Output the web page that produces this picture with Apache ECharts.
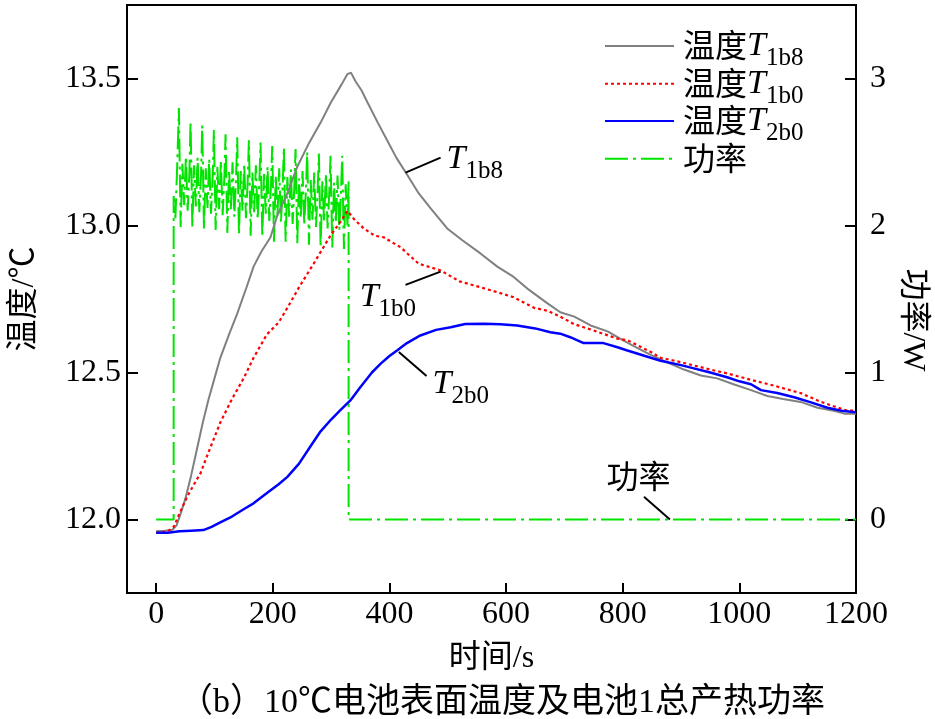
<!DOCTYPE html>
<html><head><meta charset="utf-8">
<script src="https://cdn.jsdelivr.net/npm/echarts@6.0.0/dist/echarts.min.js"></script>
<style>html,body{margin:0;padding:0;background:#fff}#c{width:935px;height:719px}</style>
</head><body><div id="c"></div><script>
// ---- data ----
const xTicks = [0, 200, 400, 600, 800, 1000, 1200];
const tempTicks = [12.0, 12.5, 13.0, 13.5];
const powerTicks = [0, 1, 2, 3];

const timeT1b8 = [0,15,28,35,42,50,60,70,80,90,100,110,125,139,155,167,180,196,207,225,242,262,282,300,318,328,334,342,352,362,380,396,412,428,450,470,499,525,556,585,613,640,671,693,717,745,774,800,819,848,876,905,934,962,990,1020,1048,1075,1105,1134,1162,1180,1200];
const valT1b8  = [11.960,11.962,11.965,11.98,12.02,12.07,12.15,12.24,12.33,12.41,12.48,12.55,12.63,12.70,12.79,12.86,12.91,12.96,13.03,13.11,13.20,13.28,13.35,13.42,13.48,13.515,13.52,13.49,13.46,13.42,13.35,13.29,13.23,13.18,13.11,13.06,12.99,12.95,12.905,12.86,12.825,12.78,12.735,12.705,12.69,12.66,12.64,12.61,12.59,12.56,12.535,12.51,12.49,12.48,12.46,12.44,12.42,12.41,12.40,12.38,12.37,12.36,12.36];

const timeT1b0 = [0,20,30,40,53,65,76,90,110,130,150,167,190,210,225,245,270,285,299,315,328,340,356,375,390,419,450,488,520,556,590,613,648,671,693,716,750,791,808,848,865,900,922,950,979,1020,1060,1105,1140,1162,1185,1200];
const valT1b0  = [11.955,11.96,11.975,12.02,12.077,12.12,12.157,12.23,12.33,12.41,12.48,12.55,12.63,12.67,12.72,12.79,12.87,12.92,12.966,13.01,13.05,13.02,12.99,12.965,12.96,12.926,12.87,12.847,12.81,12.79,12.77,12.756,12.72,12.71,12.69,12.665,12.643,12.615,12.61,12.57,12.55,12.535,12.524,12.51,12.497,12.475,12.455,12.43,12.40,12.385,12.37,12.37];

const timeT2b0 = [0,20,40,60,81,95,110,130,150,167,190,210,225,245,265,282,300,315,333,350,370,385,400,413,430,453,480,505,530,562,590,619,650,676,693,710,733,767,791,808,848,865,900,922,950,979,1000,1020,1037,1065,1094,1120,1151,1175,1200];
const valT2b0  = [11.955,11.955,11.96,11.962,11.964,11.975,11.99,12.01,12.035,12.055,12.09,12.12,12.145,12.19,12.25,12.30,12.34,12.37,12.405,12.45,12.50,12.53,12.556,12.575,12.60,12.626,12.645,12.654,12.665,12.666,12.664,12.66,12.65,12.637,12.632,12.62,12.60,12.60,12.586,12.575,12.55,12.54,12.525,12.514,12.50,12.484,12.47,12.46,12.44,12.43,12.416,12.40,12.38,12.37,12.365];

const powerTime = [0,30,30,33,36,
39,42,45,48,51,54,57,
59,62,65,68,71,74,77,
79,82,85,88,91,94,97,
99,102,105,108,111,114,117,
119,122,125,128,131,134,137,
139,142,145,148,151,154,157,
159,162,165,168,171,174,177,
179,182,185,188,191,194,197,
199,202,205,208,211,214,217,
219,222,225,228,231,234,237,
239,242,245,248,251,254,257,
259,262,265,268,271,274,277,
279,282,285,288,291,294,297,
299,302,305,308,311,314,317,
319,322,325,328,330,330,1200];
const powerVals = [0,0,2.20,2.05,2.40,
2.80,1.99,2.42,2.14,2.47,2.10,2.36,
2.71,1.99,2.41,2.13,2.46,2.09,2.35,
2.68,1.98,2.39,2.12,2.45,2.08,2.34,
2.65,1.97,2.40,2.11,2.44,2.07,2.33,
2.62,1.95,2.38,2.11,2.43,2.06,2.32,
2.60,1.94,2.37,2.10,2.42,2.05,2.31,
2.58,1.93,2.36,2.09,2.41,2.04,2.30,
2.565,1.92,2.35,2.08,2.40,2.03,2.29,
2.54,1.89,2.34,2.07,2.39,2.02,2.28,
2.53,1.89,2.33,2.06,2.38,2.01,2.27,
2.52,1.88,2.32,2.05,2.37,2.00,2.26,
2.50,1.87,2.31,2.04,2.36,1.99,2.25,
2.49,1.85,2.30,2.03,2.35,1.98,2.24,
2.475,1.85,2.29,2.02,2.34,1.97,2.23,
2.475,1.84,2.28,2.00,2.30,0,0];

// annotation anchors (data coordinates)
const tempLabels = [
  {name:'1b8', t:498, v:13.227},
  {name:'1b0', t:349, v:12.757},
  {name:'2b0', t:474, v:12.46}
];
const tempLeaders = [
  [[427.6,13.180],[487.7,13.231]],
  [[427.6,12.798],[487.7,12.843]],
  [[416.1,12.570],[463.6,12.488]]
];
const powerLabel = {name:'功率', t:772, v:0.30};
const powerLeader = [[836.4,0.154],[881.0,0.0]];

const seriesNames = ['温度T1b8','温度T1b0','温度T2b0','功率'];

// ---- chart ----
const SERIF = 'Liberation Serif, Noto Sans CJK SC';
const CJK = 'Noto Sans CJK SC';
const rich = {
  cn: {fontFamily: CJK, fontSize: 32, lineHeight: 34, verticalAlign: 'top', color: '#000', padding: [0,0,0,4]},
  t:  {fontFamily: 'Liberation Serif', fontStyle: 'italic', fontSize: 34, lineHeight: 34, verticalAlign: 'top', color: '#000'},
  s:  {fontFamily: 'Liberation Serif', fontSize: 25, lineHeight: 25, verticalAlign: 'top', color: '#000', padding: [17,0,0,0]}
};
const numRich = {n: {fontFamily: 'Liberation Serif', fontSize: 32, color: '#000'}};
function legendFmt(name) {
  if (name.indexOf('温度T') === 0) return '{cn|温度}{t|T}{s|' + name.slice(3) + '}';
  return '{cn|' + name + '}';
}
const zip = (a, b) => a.map((x, i) => [x, b[i]]);
const legendTops = [29, 66.7, 104, 141.7];

const chart = echarts.init(document.getElementById('c'), null, {renderer: 'canvas'});
const labelStyle = {color: '#000', fontFamily: 'Liberation Serif', fontSize: 32, fontWeight: 'normal', rich: numRich};
const axisCommon = {
  type: 'value',
  splitLine: {show: false},
  axisLine: {show: true, onZero: false, lineStyle: {color: '#000', width: 2}},
  axisTick: {show: true, inside: true, length: 11, lineStyle: {color: '#000', width: 2}},
  nameTextStyle: {color: '#000', fontFamily: SERIF, fontSize: 32}
};
const option = {
  backgroundColor: '#fff',
  animation: false,
  textStyle: {fontFamily: SERIF, color: '#000'},
  title: {
    text: '（b）10℃电池表面温度及电池1总产热功率',
    left: 497, top: 681, textAlign: 'center',
    textStyle: {fontFamily: SERIF, fontSize: 34, fontWeight: 'normal', color: '#000'}
  },
  grid: {left: 127, right: 79, top: 5, bottom: 126, show: true, borderColor: '#000', borderWidth: 2, outerBoundsMode: 'none', containLabel: false},
  legend: seriesNames.map((n, i) => ({
    data: [n], orient: 'vertical', left: 604, top: legendTops[i], padding: 0,
    itemWidth: 69, itemHeight: 14, selectedMode: false,
    itemStyle: {color: 'transparent', borderColor: 'transparent', borderWidth: 0},
    formatter: legendFmt, textStyle: {rich: rich}
  })),
  xAxis: Object.assign({}, axisCommon, {
    min: -50, max: 1200,
    name: '时间/s', nameLocation: 'middle', nameGap: 50,
    axisTick: Object.assign({}, axisCommon.axisTick, {length: 10, customValues: xTicks}),
    axisLabel: Object.assign({}, labelStyle, {customValues: xTicks, margin: 6, formatter: v => '{n|' + String(v) + '}'})
  }),
  yAxis: [
    Object.assign({}, axisCommon, {
      min: 11.75, max: 13.75, position: 'left',
      name: '温度/℃', nameLocation: 'middle', nameGap: 86,
      axisTick: Object.assign({}, axisCommon.axisTick, {customValues: tempTicks}),
      axisLabel: Object.assign({}, labelStyle, {customValues: tempTicks, margin: 6, formatter: v => '{n|' + v.toFixed(1) + '}'})
    }),
    Object.assign({}, axisCommon, {
      min: -0.5, max: 3.5, position: 'right',
      name: '功率/W', nameLocation: 'middle', nameGap: 40, nameRotate: -90,
      nameTextStyle: {color: '#000', fontFamily: SERIF, fontSize: 32, padding: [0,0,0,42]},
      axisTick: Object.assign({}, axisCommon.axisTick, {customValues: powerTicks}),
      axisLabel: Object.assign({}, labelStyle, {customValues: powerTicks, margin: 14, formatter: v => '{n|' + String(v) + '}'})
    })
  ],
  series: [
    {
      name: '功率', type: 'line', yAxisIndex: 1, symbol: 'none', z: 1,
      data: zip(powerTime, powerVals),
      lineStyle: {color: '#00e400', width: 2, type: [23,5,3,5]},
      itemStyle: {color: '#00e400'},
      markPoint: {
        silent: true, symbol: 'circle', symbolSize: 0,
        label: {show: true, position: 'right', distance: 0, color: '#000', fontFamily: CJK, fontSize: 32, formatter: p => p.name},
        data: [{name: powerLabel.name, coord: [powerLabel.t, powerLabel.v]}]
      },
      markLine: {
        silent: true, symbol: ['none','none'], label: {show: false},
        lineStyle: {color: '#000', width: 2, type: 'solid'},
        data: [[{coord: powerLeader[0]}, {coord: powerLeader[1]}]]
      }
    },
    {
      name: '温度T1b8', type: 'line', yAxisIndex: 0, symbol: 'none', z: 2,
      data: zip(timeT1b8, valT1b8),
      lineStyle: {color: '#808080', width: 2},
      itemStyle: {color: '#808080'},
      markPoint: {
        silent: true, symbol: 'circle', symbolSize: 0,
        label: {show: true, position: 'right', distance: 0, formatter: p => '{t|T}{s|' + p.name + '}', rich: rich},
        data: tempLabels.map(d => ({name: d.name, coord: [d.t, d.v]}))
      },
      markLine: {
        silent: true, symbol: ['none','none'], label: {show: false},
        lineStyle: {color: '#000', width: 2, type: 'solid'},
        data: tempLeaders.map(l => [{coord: l[0]}, {coord: l[1]}])
      }
    },
    {
      name: '温度T1b0', type: 'line', yAxisIndex: 0, symbol: 'none', z: 3,
      data: zip(timeT1b0, valT1b0),
      lineStyle: {color: '#ff0000', width: 2.2, type: [3,3]},
      itemStyle: {color: '#ff0000'}
    },
    {
      name: '温度T2b0', type: 'line', yAxisIndex: 0, symbol: 'none', z: 4,
      data: zip(timeT2b0, valT2b0),
      lineStyle: {color: '#0000ff', width: 2.5},
      itemStyle: {color: '#0000ff'}
    }
  ]
};
chart.setOption(option);
</script></body></html>
